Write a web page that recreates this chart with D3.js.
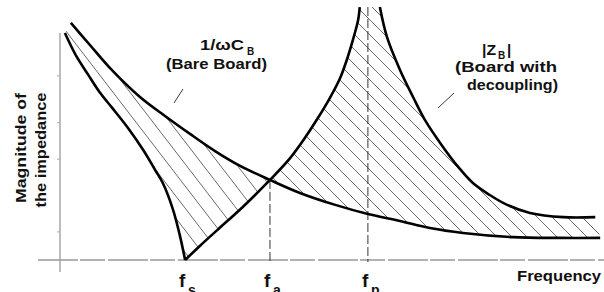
<!DOCTYPE html>
<html>
<head>
<meta charset="utf-8">
<script src="https://cdn.jsdelivr.net/npm/d3@7"></script>
<style>
  body { margin: 0; background: #fff; }
  svg { display: block; }
  text { font-family: "Liberation Sans", Arial, Helvetica, sans-serif; font-weight: bold; fill: #111; }
</style>
</head>
<body>
<script>
//Width and height
var width = 604;
var height = 292;

// frequency (0..100) / magnitude (0..100), arbitrary units
// 1/wC_B  (bare board)
var bareBoard = [
    [2.0, 91.2], [5.5, 82.7], [9.2, 73.8], [14.7, 62.7], [19.3, 55.4],
    [23.9, 48.5], [28.5, 41.9], [33.1, 36.2], [38.6, 30.8], [44.1, 25.8],
    [50.6, 21.2], [56.6, 17.7], [62.5, 15.0], [68.0, 12.3], [74.1, 10.4],
    [83.3, 8.8], [91.9, 8.5], [99.3, 8.5]
];

// |Z_B| (board with decoupling), three branches
var zFalling = [
    [0.9, 87.3], [2.9, 78.8], [5.2, 71.2], [7.4, 64.2], [9.6, 58.5],
    [12.5, 50.8], [15.3, 42.3], [17.5, 34.6], [18.9, 29.6], [20.8, 19.2],
    [22.1, 8.8], [23.0, 0]
];
var zRising = [
    [23.0, 0], [25.7, 5.4], [28.9, 11.5], [33.6, 20.4], [38.6, 30.8],
    [42.3, 39.2], [45.0, 46.9], [47.4, 54.6], [49.6, 62.3], [51.5, 70.0],
    [52.9, 78.1], [54.0, 85.8], [54.8, 92.3], [55.1, 97.3]
];
var zAfterPole = [
    [58.8, 97.3], [60.1, 85.8], [62.5, 73.1], [64.9, 62.7], [67.1, 53.8],
    [70.4, 43.5], [73.2, 35.8], [75.9, 29.6], [79.0, 25.0], [82.2, 21.2],
    [86.4, 18.1], [92.5, 16.5], [98.4, 16.5]
];

// marked frequencies
var fMarks = [
    {name: "f", sub: "s", f: 23.0, top: 0},
    {name: "f", sub: "a", f: 38.6, top: 30.8},
    {name: "f", sub: "p", f: 56.6, top: 97.3}
];
var yTicks = [11, 39, 53, 71];

var xScale = d3.scaleLinear().domain([0, 100]).range([60, 604]);
var yScale = d3.scaleLinear().domain([0, 100]).range([260, 0]);

var line = d3.line()
    .x(function(d) { return xScale(d[0]); })
    .y(function(d) { return yScale(d[1]); })
    .curve(d3.curveCatmullRom);

var svg = d3.select("body").append("svg")
    .attr("width", width)
    .attr("height", height);

var defs = svg.append("defs");

// region between the two curves
var areaPath = line(zFalling)
    + line(zRising).replace(/^M/, "L")
    + line(zAfterPole).replace(/^M/, "L")
    + line(bareBoard.slice().reverse()).replace(/^M/, "L") + "Z";

defs.append("clipPath").attr("id", "between")
    .append("path").attr("d", areaPath);
defs.append("clipPath").attr("id", "leftPart")
    .append("rect").attr("x", 0).attr("y", 0)
    .attr("width", xScale(38.6)).attr("height", height);
defs.append("clipPath").attr("id", "rightPart")
    .append("rect").attr("x", xScale(38.6)).attr("y", 0)
    .attr("width", width).attr("height", height);

//axes
svg.append("line")
    .attr("x1", 38).attr("x2", 604)
    .attr("y1", yScale(0)).attr("y2", yScale(0))
    .attr("stroke", "#999").attr("stroke-width", 1.3)
    .attr("stroke-dasharray", "40,2,25,3");
svg.append("line")
    .attr("x1", xScale(0)).attr("x2", xScale(0))
    .attr("y1", 33).attr("y2", 272)
    .attr("stroke", "#999").attr("stroke-width", 1.3);

var yAxis = d3.axisLeft(yScale).tickValues(yTicks).tickSize(3).tickFormat("");
var yAxisGroup = svg.append("g")
    .attr("transform", "translate(" + xScale(0) + ",0)")
    .call(yAxis);
yAxisGroup.select(".domain").remove();
yAxisGroup.selectAll("line").attr("stroke", "#aaa");

//hatching
function hatch(clipId, slope, step) {
    var g = svg.append("g").attr("clip-path", "url(#between)")
        .append("g").attr("clip-path", "url(#" + clipId + ")");
    for (var c = -400; c < width + 50; c += step) {
        g.append("line")
            .attr("x1", c).attr("y1", 0)
            .attr("x2", c + height / slope).attr("y2", height)
            .attr("stroke", "#444").attr("stroke-width", 0.8);
    }
}
hatch("leftPart", 1.3, 17);
hatch("rightPart", 1.0, 15);

//dashed marker lines
svg.selectAll(".marker")
    .data(fMarks.filter(function(d) { return d.top > 0; }))
    .enter().append("line")
    .attr("class", "marker")
    .attr("x1", function(d) { return xScale(d.f); })
    .attr("x2", function(d) { return xScale(d.f); })
    .attr("y1", function(d) { return yScale(d.top); })
    .attr("y2", yScale(0) + 2)
    .attr("stroke", "#333").attr("stroke-width", 1)
    .attr("stroke-dasharray", "9,3");

//curves
[bareBoard, zFalling, zRising, zAfterPole].forEach(function(d) {
    svg.append("path")
        .attr("d", line(d))
        .attr("fill", "none")
        .attr("stroke", "#000")
        .attr("stroke-width", 2.6)
        .attr("stroke-linejoin", "round");
});

//leader lines
svg.append("line").attr("x1", 183).attr("y1", 89).attr("x2", 174).attr("y2", 103)
    .attr("stroke", "#222").attr("stroke-width", 0.9);
svg.append("line").attr("x1", 454).attr("y1", 93).attr("x2", 438).attr("y2", 108)
    .attr("stroke", "#222").attr("stroke-width", 0.9);

//labels
function label(txt, x, y, size, len, anchor) {
    var t = svg.append("text")
        .attr("x", x).attr("y", y)
        .attr("font-size", size)
        .attr("text-anchor", anchor || "start")
        .text(txt);
    if (len) t.attr("textLength", len).attr("lengthAdjust", "spacingAndGlyphs");
    return t;
}

label("1/ωC", 200, 50, 15, 44);
label("B", 247, 55, 10);
label("(Bare Board)", 166, 69, 15, 101);

label("|Z", 482, 55, 15, 14);
label("B", 498, 59, 10);
label("|", 507, 55, 15);
label("(Board with", 455, 72, 15, 102);
label("decoupling)", 467, 90, 15, 91);

label("Frequency", 517, 281, 15, 84);

svg.append("text")
    .attr("transform", "translate(26,148) rotate(-90)")
    .attr("text-anchor", "middle")
    .attr("font-size", 14)
    .attr("textLength", 110).attr("lengthAdjust", "spacingAndGlyphs")
    .text("Magnitude of");
svg.append("text")
    .attr("transform", "translate(46,150) rotate(-90)")
    .attr("text-anchor", "middle")
    .attr("font-size", 14)
    .attr("textLength", 115).attr("lengthAdjust", "spacingAndGlyphs")
    .text("the impedance");

//frequency marks
var fLabels = svg.selectAll(".flabel")
    .data(fMarks)
    .enter().append("g")
    .attr("class", "flabel")
    .attr("transform", function(d) { return "translate(" + (xScale(d.f) - 6) + ",287)"; });
fLabels.append("text").attr("font-size", 19).text(function(d) { return d.name; });
fLabels.append("text").attr("x", 9).attr("y", 8).attr("font-size", 14).text(function(d) { return d.sub; });
</script>
</body>
</html>
